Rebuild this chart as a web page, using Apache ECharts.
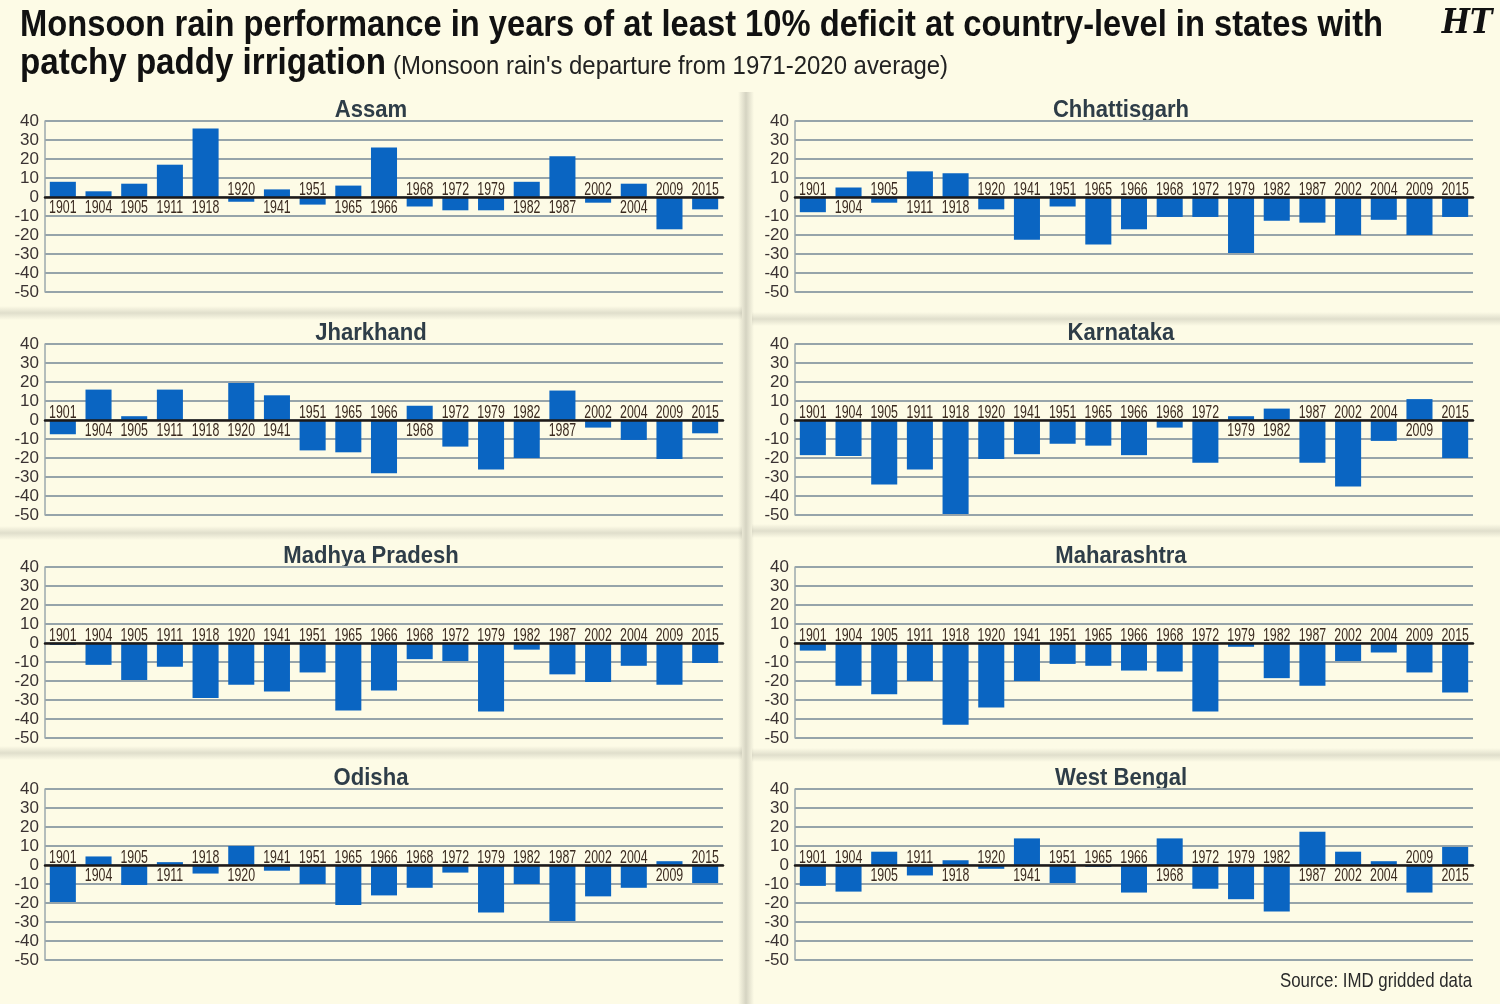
<!DOCTYPE html>
<html>
<head>
<meta charset="utf-8">
<script src="https://cdn.jsdelivr.net/npm/echarts@6/dist/echarts.min.js"></script>
<style>
  html, body { margin: 0; padding: 0; background: #fdfbe6; }
  #chart { width: 1500px; height: 1004px; }
</style>
</head>
<body>
<div id="chart"></div>
<script>
// years with at least 10% deficit at country level
const years = ['1901', '1904', '1905', '1911', '1918', '1920', '1941', '1951', '1965', '1966',
  '1968', '1972', '1979', '1982', '1987', '2002', '2004', '2009', '2015'];

// departure (%) from 1971-2020 average
const assam = [8, 3, 7, 17, 36, -2.5, 4, -4, 6, 26, -5, -7, -7, 8, 21.5, -3, 7, -17, -6.5];
const chhattisgarh = [-8, 5, -3, 13.5, 12.5, -6.5, -22.5, -5, -25, -17, -10.5, -10.5, -29.5, -12.5, -13.5, -20, -12, -20, -10.5];
const jharkhand = [-7.5, 16, 2, 16, 0, 19.5, 13, -16, -17, -28, 7.5, -14, -26, -20, 15.5, -4, -10.5, -20.5, -7];
const karnataka = [-18.5, -19, -34, -26, -49.5, -20.5, -18, -12.5, -13.5, -18.5, -4, -22.5, 2, 6, -22.5, -35, -11, 11, -20];
const madhyaPradesh = [-1, -11.5, -19.5, -12.5, -29, -22, -25.5, -15.5, -35.5, -25, -8.5, -9.5, -36, -3.5, -16.5, -20.5, -12, -22, -10.5];
const maharashtra = [-4, -22.5, -27, -20, -43, -34, -20, -11, -12, -14.5, -15, -36, -2, -18.5, -22.5, -9.5, -5, -15.5, -26];
const odisha = [-19.5, 4.5, -10.5, 1.5, -4.5, 10, -3, -10, -21, -16, -12, -4, -25, -10, -29.5, -16.5, -12, 2, -9.5];
const westBengal = [-11, -14, 7, -5.5, 2.5, -2, 14, -9.5, -1, -14.5, 14, -12.5, -18, -24.5, 17.5, 7, 2, -14.5, 9.5];

const yMin = -50;
const yMax = 40;
const yStep = 10;

const panels = [
  { name: 'Assam', data: assam },
  { name: 'Chhattisgarh', data: chhattisgarh },
  { name: 'Jharkhand', data: jharkhand },
  { name: 'Karnataka', data: karnataka },
  { name: 'Madhya Pradesh', data: madhyaPradesh },
  { name: 'Maharashtra', data: maharashtra },
  { name: 'Odisha', data: odisha },
  { name: 'West Bengal', data: westBengal },
];

const FONT = "'Liberation Sans', Arial, sans-serif";
const rowTops = [121, 344, 567, 789];
const colLefts = [45, 795];
const plotW = 678;
const plotH = 171;

// no condensed face installed, so squeeze text horizontally to a target width
const ctx = document.createElement('canvas').getContext('2d');
function fitScale(text, font, target) {
  ctx.font = font;
  return target / ctx.measureText(text).width;
}

const chart = echarts.init(document.getElementById('chart'));

let grid = [], xAxis = [], yAxis = [], series = [];
let graphic = [];

// panel shadows
const shade = (x, y, w, h, vertical, a) => ({
  type: 'rect',
  shape: { x, y, width: w, height: h },
  silent: true,
  style: {
    fill: new echarts.graphic.LinearGradient(0, 0, vertical ? 1 : 0, vertical ? 0 : 1, [
      { offset: 0, color: 'rgba(120,120,110,0)' },
      { offset: 0.5, color: 'rgba(120,120,110,' + a + ')' },
      { offset: 1, color: 'rgba(120,120,110,0)' },
    ]),
  },
});
graphic.push(shade(0, 306, 742, 14, false, 0.22));
graphic.push(shade(752, 312, 748, 14, false, 0.22));
graphic.push(shade(0, 526, 742, 14, false, 0.22));
graphic.push(shade(752, 524, 748, 14, false, 0.22));
graphic.push(shade(0, 746, 742, 14, false, 0.22));
graphic.push(shade(752, 748, 748, 14, false, 0.22));
graphic.push(shade(738, 92, 16, 912, true, 0.3));

const LABEL_FONT = '19px ' + FONT;
const LABEL_SCALE = 0.65;

panels.forEach((p, i) => {
  const row = Math.floor(i / 2);
  const col = i % 2;
  const left = colLefts[col];
  const top = rowTops[row];

  grid.push({ left, top, width: plotW, height: plotH });
  xAxis.push({
    type: 'category',
    gridIndex: i,
    data: years,
    axisTick: { show: false },
    axisLabel: { show: false },
    axisLine: { lineStyle: { color: '#1e1a18', width: 2.5 } },
    z: 5,
  });
  yAxis.push({
    type: 'value',
    gridIndex: i,
    min: yMin,
    max: yMax,
    interval: yStep,
    axisLine: { show: true, lineStyle: { color: '#9ba8ad', width: 1.5 } },
    axisTick: { show: false },
    axisLabel: { color: '#3a3232', fontFamily: FONT, fontSize: 17, margin: 6 },
    splitLine: { lineStyle: { color: '#96a4aa', width: 2 } },
  });
  series.push({
    type: 'bar',
    xAxisIndex: i,
    yAxisIndex: i,
    data: p.data,
    barCategoryGap: '27%',
    itemStyle: { color: '#0a65c2' },
    silent: true,
  });
  // year labels sit on the opposite side of the zero line from the bar
  series.push({
    type: 'custom',
    xAxisIndex: i,
    yAxisIndex: i,
    silent: true,
    z: 6,
    data: p.data.map((v, k) => [k, v]),
    renderItem: (params, api) => {
      const k = api.value(0);
      const below = api.value(1) >= 0;
      const pt = api.coord([k, 0]);
      return {
        type: 'text',
        x: pt[0],
        y: below ? pt[1] + 1 : pt[1] + 2,
        scaleX: LABEL_SCALE,
        style: {
          text: years[k],
          x: 0, y: 0,
          align: 'center', textAlign: 'center',
          verticalAlign: below ? 'top' : 'bottom',
          textVerticalAlign: below ? 'top' : 'bottom',
          font: LABEL_FONT,
          fill: '#3a2a1f',
        },
      };
    },
  });

  graphic.push({
    type: 'text',
    x: left + plotW / 2 - 13,
    y: top - 11,
    scaleX: 0.92,
    style: {
      text: p.name,
      align: 'center', textAlign: 'center',
      verticalAlign: 'middle', textVerticalAlign: 'middle',
      font: 'bold 24px ' + FONT,
      fill: '#2e3d48',
    },
  });
});

// headline
const H1 = 'Monsoon rain performance in years of at least 10% deficit at country-level in states with';
const H2 = 'patchy paddy irrigation';
const SUB = "(Monsoon rain's departure from 1971-2020 average)";
const SRC = 'Source: IMD gridded data';
const HFONT = 'bold 36px ' + FONT;
const SFONT = '25px ' + FONT;

graphic.push({
  type: 'text', x: 20, y: 26, scaleX: fitScale(H1, HFONT, 1363),
  style: { text: H1, verticalAlign: 'middle', textVerticalAlign: 'middle', font: HFONT, fill: '#111' },
});
graphic.push({
  type: 'text', x: 20, y: 64, scaleX: fitScale(H2, HFONT, 366),
  style: { text: H2, verticalAlign: 'middle', textVerticalAlign: 'middle', font: HFONT, fill: '#111' },
});
graphic.push({
  type: 'text', x: 393, y: 67, scaleX: fitScale(SUB, SFONT, 555),
  style: { text: SUB, verticalAlign: 'middle', textVerticalAlign: 'middle', font: SFONT, fill: '#222' },
});
graphic.push({
  type: 'text', x: 1467, y: 24, scaleX: 0.88,
  style: {
    text: 'HT',
    align: 'center', textAlign: 'center',
    verticalAlign: 'middle', textVerticalAlign: 'middle',
    font: 'italic bold 34px "DejaVu Serif", serif', fill: '#111',
  },
});
graphic.push({
  type: 'text', x: 1472, y: 981, scaleX: fitScale(SRC, '21px ' + FONT, 192),
  style: {
    text: SRC,
    align: 'right', textAlign: 'right',
    verticalAlign: 'middle', textVerticalAlign: 'middle',
    font: '21px ' + FONT, fill: '#2a2a2a',
  },
});

chart.setOption({
  backgroundColor: '#fdfbe6',
  animation: false,
  grid,
  xAxis,
  yAxis,
  series,
  graphic,
});
</script>
</body>
</html>
